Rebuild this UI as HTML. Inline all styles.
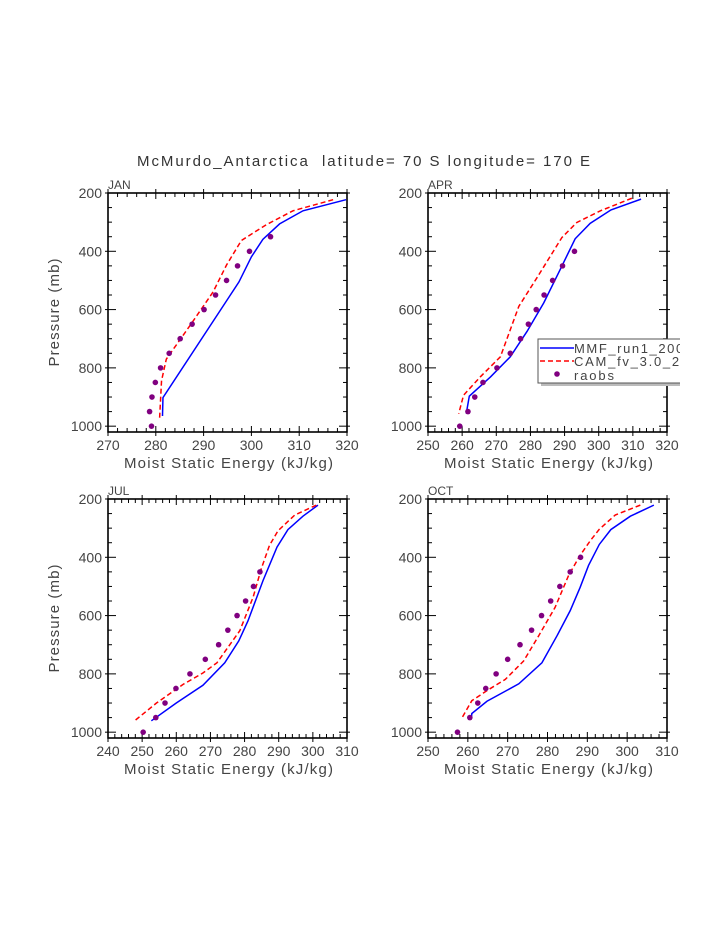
<!DOCTYPE html>
<html><head><meta charset="utf-8"><style>
html,body{margin:0;padding:0;background:#fff;}
svg{display:block;font-family:"Liberation Sans","DejaVu Sans",sans-serif;}
</style></head><body>
<svg id="fig" width="723" height="935" viewBox="0 0 723 935" xmlns="http://www.w3.org/2000/svg">
<text x="137" y="166" font-size="15" fill="#333" textLength="453" lengthAdjust="spacing" xml:space="preserve">McMurdo_Antarctica  latitude= 70 S longitude= 170 E</text>
</svg>
<script>
// ---- data (pressure in mb, MSE in kJ/kg) ----
const panelNames = ["JAN","APR","JUL","OCT"];
const xMins = [270,250,240,250];
const xMaxs = [320,320,310,310];
const yTicks = [200,400,600,800,1000];
const raobsP = [1000,950,900,850,800,750,700,650,600,550,500,450,400,350];

const janMmfP = [223,261,306,359,419,505,580,902,965];
const janMmfX = [319.8,310.8,305.9,302.4,300.0,297.4,294.4,281.5,281.4];
const janCamP = [223,261,309,363,447,539,649,770,844,971];
const janCamX = [317.1,308.7,303.1,297.9,294.8,292.0,287.4,282.2,281.2,280.8];
const janRaobs = [279.1,278.7,279.2,279.9,281.0,282.8,285.1,287.6,290.1,292.5,294.8,297.1,299.6,304.0];

const aprMmfP = [221,258,304,357,451,577,675,762,831,897,957];
const aprMmfX = [312.4,303.6,297.5,293.1,289.2,283.9,279.0,274.1,268.3,262.1,261.2];
const aprCamP = [218,261,301,353,491,589,762,831,894,957];
const aprCamX = [309.7,300.5,293.6,289.2,281.9,276.6,271.2,265.3,260.4,259.0];
const aprRaobs = [259.3,261.7,263.7,266.1,270.2,274.1,277.1,279.4,281.7,284.0,286.5,289.4,292.9];

const julMmfP = [221,259,305,365,480,618,687,762,839,900,961];
const julMmfX = [301.5,297.1,292.7,289.5,285.4,281.0,278.3,274.2,267.8,260.0,252.7];
const julCamP = [221,255,309,359,439,537,652,762,797,836,900,959];
const julCamX = [301.0,294.7,289.8,287.3,284.9,282.5,278.6,271.9,267.8,262.0,254.2,248.0];
const julRaobs = [250.3,254.0,256.7,259.9,264.0,268.5,272.4,275.1,277.8,280.3,282.6,284.5];

const octMmfP = [221,259,305,356,428,503,583,669,762,834,894,936,951];
const octMmfX = [306.7,300.8,295.9,293.0,290.3,288.2,285.7,282.4,278.6,272.8,264.8,261.0,260.9];
const octCamP = [221,255,304,342,393,462,572,669,756,819,854,892,954];
const octCamX = [303.3,297.0,293.0,290.8,288.2,285.3,281.9,277.8,274.0,269.4,265.2,261.0,258.4];
const octRaobs = [257.4,260.5,262.5,264.5,267.1,270.0,273.1,276.0,278.5,280.8,283.1,285.7,288.3];

const mmfX = [janMmfX,aprMmfX,julMmfX,octMmfX];
const mmfP = [janMmfP,aprMmfP,julMmfP,octMmfP];
const camX = [janCamX,aprCamX,julCamX,octCamX];
const camP = [janCamP,aprCamP,julCamP,octCamP];
const raobsX = [janRaobs,aprRaobs,julRaobs,octRaobs];

const NS="http://www.w3.org/2000/svg";
const svg=document.getElementById('fig');
function mk(tag,attrs,parent){const e=document.createElementNS(NS,tag);for(const k in attrs)e.setAttribute(k,attrs[k]);(parent||svg).appendChild(e);return e;}

const boxes=[[108,193],[428,193],[108,499],[428,499]];
const W=239,H=239,PMIN=200,PMAX=1020;

panelNames.forEach((name,i)=>{
  const [bx,by]=boxes[i];
  const g=mk('g',{});
  
  
  const xs=v=>bx+(v-xMins[i])/(xMaxs[i]-xMins[i])*W;
  const ys=p=>by+(p-PMIN)/(PMAX-PMIN)*H;
  const lab=mk('text',{x:bx,y:by-4,'font-size':12,fill:'#444'},g);lab.textContent=name;
  
  
  const fr=mk('rect',{x:bx,y:by,width:W,height:H,fill:'none',stroke:'#000','stroke-width':1.6},g);
  
  
  for(let p=200;p<=1000;p+=50){
    const y=ys(p),maj=p%200===0,L=maj?8:4;
    mk('line',{x1:bx-(maj?3:0),x2:bx+L,y1:y,y2:y,stroke:'#000','stroke-width':1},g);
    mk('line',{x1:bx+W-L,x2:bx+W+(maj?3:0),y1:y,y2:y,stroke:'#000','stroke-width':1},g);
  }
  yTicks.forEach(p=>{const t=mk('text',{x:bx-6,y:ys(p)+5,'font-size':14,fill:'#444','text-anchor':'end'},g);t.textContent=p;
    
    });
  for(let v=xMins[i];v<=xMaxs[i]+1e-6;v+=2){
    const x=xs(v),maj=(v%10===0),L=maj?6:4;
    mk('line',{x1:x,x2:x,y1:by+H-L,y2:by+H+(maj?4:0),stroke:'#000','stroke-width':1},g);
    mk('line',{x1:x,x2:x,y1:by-(maj?4:0),y2:by+L,stroke:'#000','stroke-width':1},g);
    if(maj){const t=mk('text',{x:x,y:by+H+18,'font-size':14,fill:'#444','text-anchor':'middle'},g);t.textContent=v;
      
      }
  }
  const xt=mk('text',{x:bx+16,y:by+H+36,'font-size':15,fill:'#444',textLength:209,lengthAdjust:'spacing'},g);xt.textContent='Moist Static Energy (kJ/kg)';
  
  
  if(i%2===0){const yt=mk('text',{x:-54,y:0,'font-size':15,fill:'#444',textLength:108,lengthAdjust:'spacing',transform:`translate(59,${by+H/2}) rotate(-90)`},g);yt.textContent='Pressure (mb)';
    
    }
  const mm=mk('polyline',{points:mmfX[i].map((v,k)=>xs(v)+','+ys(mmfP[i][k])).join(' '),fill:'none',stroke:'#0000ff','stroke-width':1.5},g);
  
  
  const cm=mk('polyline',{points:camX[i].map((v,k)=>xs(v)+','+ys(camP[i][k])).join(' '),fill:'none',stroke:'#ff0000','stroke-width':1.5,'stroke-dasharray':'5,3'},g);
  
  
  raobsX[i].forEach((v,k)=>{const c=mk('circle',{cx:xs(v),cy:ys(raobsP[k]),r:2.8,fill:'#800080'},g);
    
    });
});

const lg=mk('g',{});


mk('rect',{x:541,y:342,width:145,height:44,fill:'#bbb'},lg);
mk('rect',{x:538,y:339,width:145,height:44,fill:'#fff',stroke:'#555','stroke-width':1},lg);
mk('line',{x1:540,x2:574,y1:348,y2:348,stroke:'#0000ff','stroke-width':1.5},lg);
mk('line',{x1:540,x2:574,y1:361,y2:361,stroke:'#ff0000','stroke-width':1.5,'stroke-dasharray':'5,3'},lg);
mk('circle',{cx:557,cy:374,r:2.8,fill:'#800080'},lg);
[['MMF_run1_2000',353,'legend-entry-mmf',118],['CAM_fv_3.0_2000',366,'legend-entry-cam',132],['raobs',380,'legend-entry-raobs',40]].forEach(([t,y,n,L])=>{
  const e=mk('text',{x:574,y:y,'font-size':13,fill:'#444',textLength:L,lengthAdjust:'spacing'},lg);e.textContent=t;
  
  
});
mk('rect',{x:680,y:330,width:43,height:70,fill:'#fff'},lg);
</script>
</body></html>
